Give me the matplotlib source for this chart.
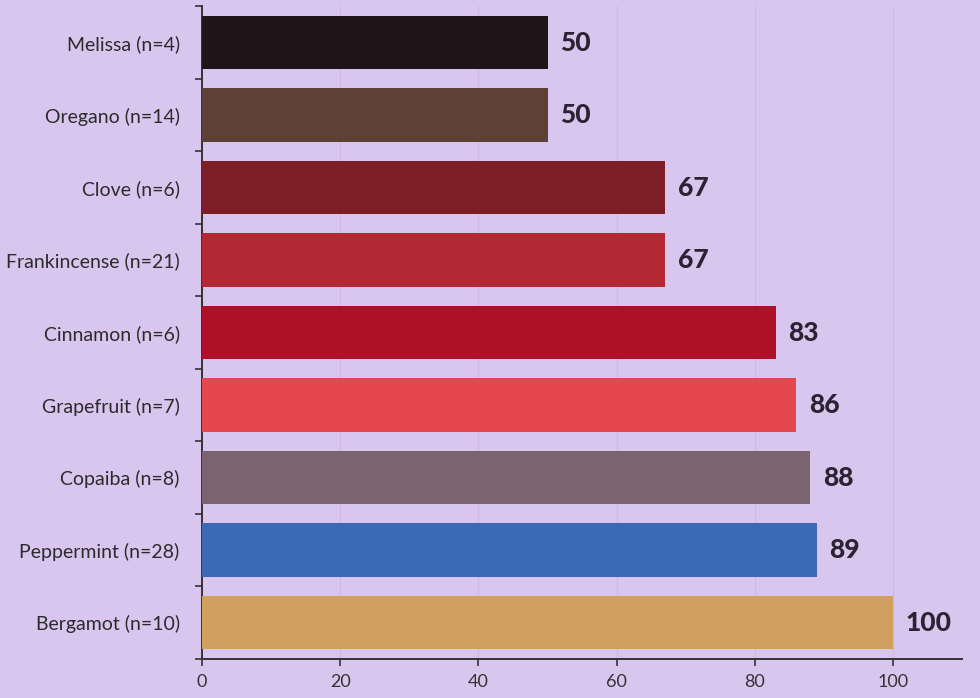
import numpy as np
from matplotlib import pyplot as plt

labels = ['Melissa (n=4)', 'Oregano (n=14)', 'Clove (n=6)', 'Frankincense (n=21)',
          'Cinnamon (n=6)', 'Grapefruit (n=7)', 'Copaiba (n=8)', 'Peppermint (n=28)',
          'Bergamot (n=10)']
values = [50, 50, 67, 67, 83, 86, 88, 89, 100]
colors = ['#1f1519', '#5d4036', '#7d1d25', '#b22833', '#ad1027', '#e5474f',
          '#7b6470', '#3b69b5', '#d0a060']
xticks = [0, 20, 40, 60, 80, 100]

bg = '#d9c6ef'
plt.rcParams['font.family'] = ['Lato', 'DejaVu Sans']

fig = plt.figure(figsize=(9.8, 6.98), dpi=100, facecolor=bg)
ax = fig.add_axes([0.206, 0.056, 0.776, 0.935], facecolor=bg)

y = np.arange(len(labels))
ax.barh(y, values, height=0.74, color=colors, zorder=3)
for yi, v in zip(y, values):
    ax.text(v + 1.8, yi, str(v), va='center', ha='left', fontsize=19,
            fontweight='black', color='#2b2331', zorder=4)

ax.set_ylim(len(labels) - 0.5, -0.5)
ax.set_xlim(0, 110)
ax.set_yticks(y)
ax.set_yticklabels(labels, fontsize=14, color='#2b2b2b')
ax.set_yticks(np.arange(len(labels) + 1) - 0.5, minor=True)
ax.tick_params(axis='y', which='major', length=0, pad=16)
ax.tick_params(axis='y', which='minor', length=5, width=1.2, color='#333333')
ax.set_xticks(xticks)
ax.tick_params(axis='x', length=5, width=1.2, color='#333333', labelsize=13,
               labelcolor='#333333', pad=6)
ax.grid(axis='x', color='#cdb9e3', linewidth=0.8, zorder=0)
for s in ['top', 'right']:
    ax.spines[s].set_visible(False)
for s in ['left', 'bottom']:
    ax.spines[s].set_color('#333333')
    ax.spines[s].set_linewidth(1.4)

fig.savefig('out.png', dpi=100, facecolor=bg)
